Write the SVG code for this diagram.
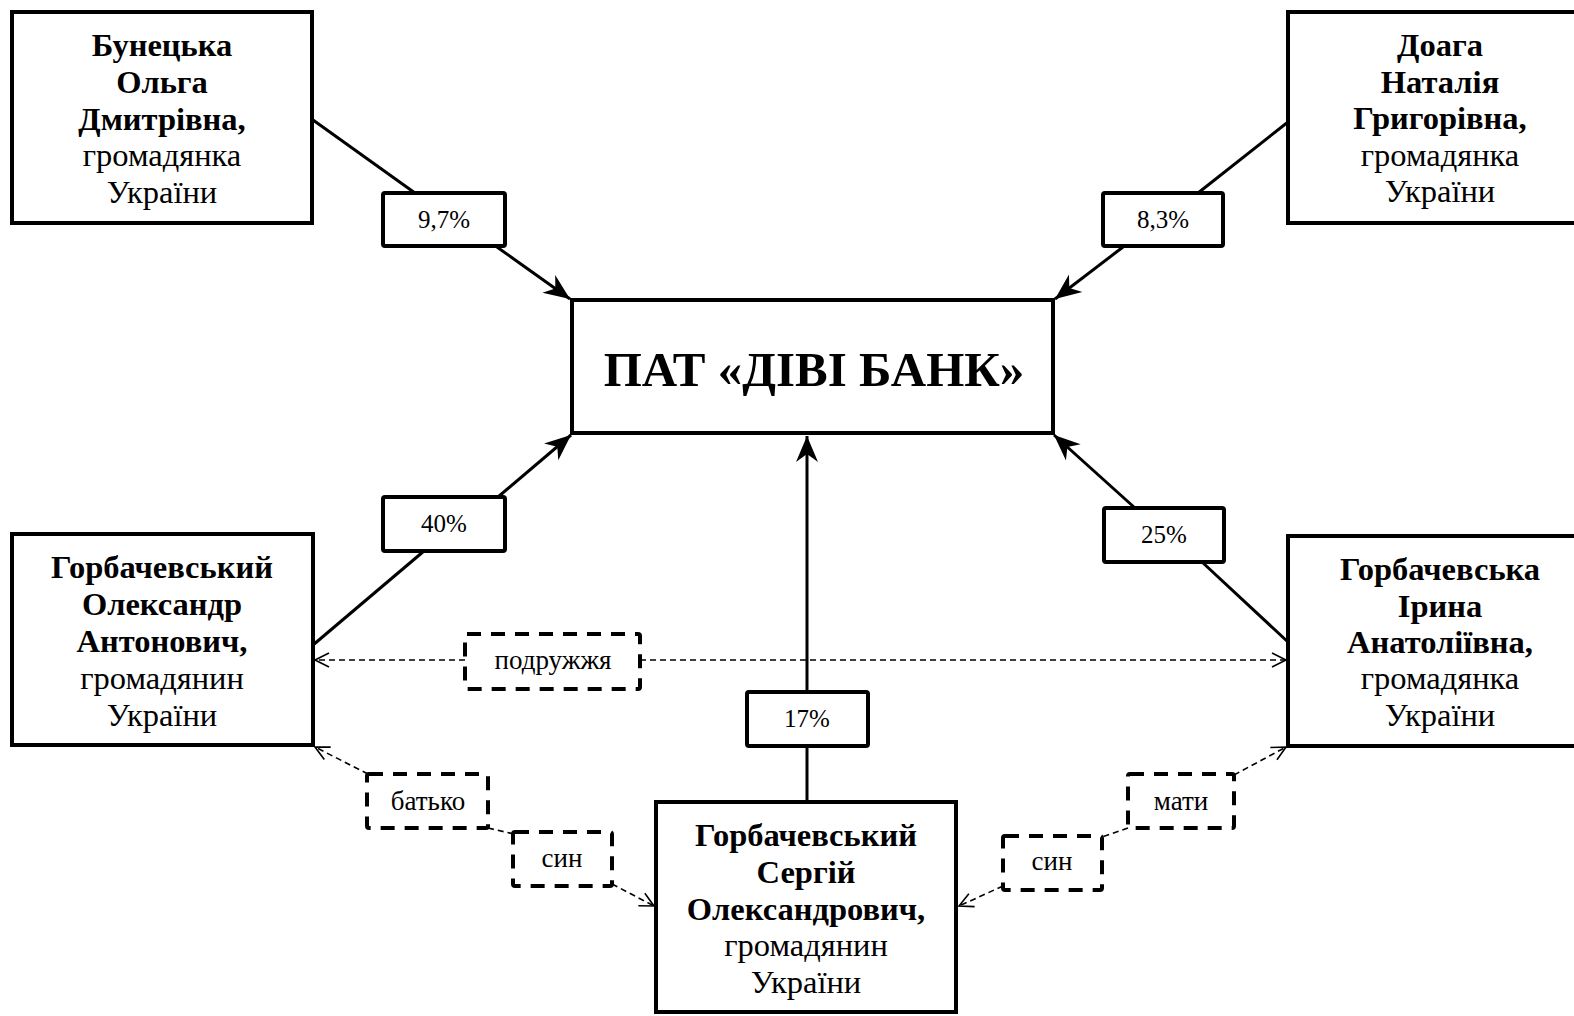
<svg xmlns="http://www.w3.org/2000/svg" width="1574" height="1016" viewBox="0 0 1574 1016">
<defs>
<style>
.box{fill:#fff;stroke:#000;stroke-width:4}
.lbl{fill:#fff;stroke:#000;stroke-width:4}
.dbox{fill:#fff;stroke:#000;stroke-width:4;stroke-dasharray:14 10}
.sol{stroke:#000;stroke-width:3;fill:none}
.dash{stroke:#000;stroke-width:1.6;fill:none;stroke-dasharray:6 4}
text{font-family:"Liberation Serif","Times New Roman",serif;fill:#000;text-anchor:middle}
.nt{font-size:32.5px}
.b{font-weight:bold}
.pt{font-size:25px}
.rt{font-size:27px}
.bank{font-size:49px;font-weight:bold}
</style>
<marker id="ah" markerUnits="userSpaceOnUse" viewBox="-28 -13 30 26" markerWidth="30" markerHeight="26" refX="0" refY="0" orient="auto">
<path d="M0,0 L-26,-11 L-18,0 L-26,11 Z" fill="#000"/>
</marker>
<marker id="oa" markerUnits="userSpaceOnUse" viewBox="-16 -9 18 18" markerWidth="18" markerHeight="18" refX="0" refY="0" orient="auto">
<path d="M-14,-7 L0,0 L-14,7" fill="none" stroke="#000" stroke-width="1.6"/>
</marker>
</defs>
<rect width="1574" height="1016" fill="#fff"/>
<g id="connectors">
<line class="sol" x1="313" y1="120" x2="415" y2="193"/>
<line class="sol" x1="497" y1="247" x2="570" y2="299" marker-end="url(#ah)"/>
<line class="sol" x1="1288" y1="122" x2="1198" y2="193"/>
<line class="sol" x1="1123" y1="247" x2="1055" y2="299" marker-end="url(#ah)"/>
<line class="sol" x1="313" y1="645" x2="424" y2="551"/>
<line class="sol" x1="498" y1="497" x2="571" y2="435" marker-end="url(#ah)"/>
<line class="sol" x1="1288" y1="642" x2="1202" y2="562"/>
<line class="sol" x1="1135" y1="508" x2="1054" y2="435" marker-end="url(#ah)"/>
<line class="sol" x1="807" y1="802" x2="807" y2="746"/>
<line class="sol" x1="807" y1="692" x2="807" y2="436" marker-end="url(#ah)"/>
<line class="dash" x1="465" y1="660" x2="315" y2="660" marker-end="url(#oa)"/>
<line class="dash" x1="640" y1="660" x2="1286" y2="660" marker-end="url(#oa)"/>
<line class="dash" x1="368" y1="774" x2="315" y2="747" marker-end="url(#oa)"/>
<line class="dash" x1="488" y1="828" x2="514" y2="834"/>
<line class="dash" x1="612" y1="884" x2="654" y2="906" marker-end="url(#oa)"/>
<line class="dash" x1="1234" y1="775" x2="1286" y2="747" marker-end="url(#oa)"/>
<line class="dash" x1="1128" y1="828" x2="1102" y2="837"/>
<line class="dash" x1="1003" y1="886" x2="959" y2="906" marker-end="url(#oa)"/>
</g>
<g id="bunetska">
<rect class="box" x="12" y="12" width="300" height="211"/>
<text class="nt b" x="162" y="56">Бунецька</text>
<text class="nt b" x="162" y="93">Ольга</text>
<text class="nt b" x="162" y="130">Дмитрівна,</text>
<text class="nt" x="162" y="166">громадянка</text>
<text class="nt" x="162" y="203">України</text>
</g>
<g id="doaga">
<rect class="box" x="1288" y="12" width="320" height="211"/>
<text class="nt b" x="1440" y="56">Доага</text>
<text class="nt b" x="1440" y="93">Наталія</text>
<text class="nt b" x="1440" y="129">Григорівна,</text>
<text class="nt" x="1440" y="166">громадянка</text>
<text class="nt" x="1440" y="202">України</text>
</g>
<g id="bank">
<rect class="box" x="572" y="300" width="481" height="133"/>
<text class="bank" x="814" y="386">ПАТ «ДІВІ БАНК»</text>
</g>
<g id="oleksandr">
<rect class="box" x="12" y="534" width="301" height="211"/>
<text class="nt b" x="162" y="578">Горбачевський</text>
<text class="nt b" x="162" y="615">Олександр</text>
<text class="nt b" x="162" y="652">Антонович,</text>
<text class="nt" x="162" y="689">громадянин</text>
<text class="nt" x="162" y="726">України</text>
</g>
<g id="iryna">
<rect class="box" x="1288" y="536" width="320" height="210"/>
<text class="nt b" x="1440" y="580">Горбачевська</text>
<text class="nt b" x="1440" y="617">Ірина</text>
<text class="nt b" x="1440" y="653">Анатоліївна,</text>
<text class="nt" x="1440" y="689">громадянка</text>
<text class="nt" x="1440" y="726">України</text>
</g>
<g id="serhii">
<rect class="box" x="656" y="802" width="300" height="210"/>
<text class="nt b" x="806" y="846">Горбачевський</text>
<text class="nt b" x="806" y="883">Сергій</text>
<text class="nt b" x="806" y="920">Олександрович,</text>
<text class="nt" x="806" y="956">громадянин</text>
<text class="nt" x="806" y="993">України</text>
</g>
<g id="label-97">
<rect class="lbl" x="383" y="193" width="122" height="53" rx="2"/>
<text class="pt" x="444" y="228">9,7%</text>
</g>
<g id="label-83">
<rect class="lbl" x="1103" y="193" width="120" height="53" rx="2"/>
<text class="pt" x="1163" y="228">8,3%</text>
</g>
<g id="label-40">
<rect class="lbl" x="383" y="497" width="122" height="54" rx="2"/>
<text class="pt" x="444" y="532">40%</text>
</g>
<g id="label-25">
<rect class="lbl" x="1104" y="508" width="120" height="54" rx="2"/>
<text class="pt" x="1164" y="543">25%</text>
</g>
<g id="label-17">
<rect class="lbl" x="747" y="692" width="121" height="54" rx="2"/>
<text class="pt" x="807" y="727">17%</text>
</g>
<g id="rel-podruzhzhia">
<rect class="dbox" x="465" y="634" width="175" height="55" rx="2"/>
<text class="rt" x="553" y="669">подружжя</text>
</g>
<g id="rel-batko">
<rect class="dbox" x="367" y="774" width="121" height="54" rx="2"/>
<text class="rt" x="428" y="810">батько</text>
</g>
<g id="rel-syn-left">
<rect class="dbox" x="513" y="832" width="99" height="54" rx="2"/>
<text class="rt" x="562" y="867">син</text>
</g>
<g id="rel-maty">
<rect class="dbox" x="1128" y="774" width="106" height="54" rx="2"/>
<text class="rt" x="1181" y="810">мати</text>
</g>
<g id="rel-syn-right">
<rect class="dbox" x="1003" y="836" width="99" height="54" rx="2"/>
<text class="rt" x="1052" y="870">син</text>
</g>
</svg>
